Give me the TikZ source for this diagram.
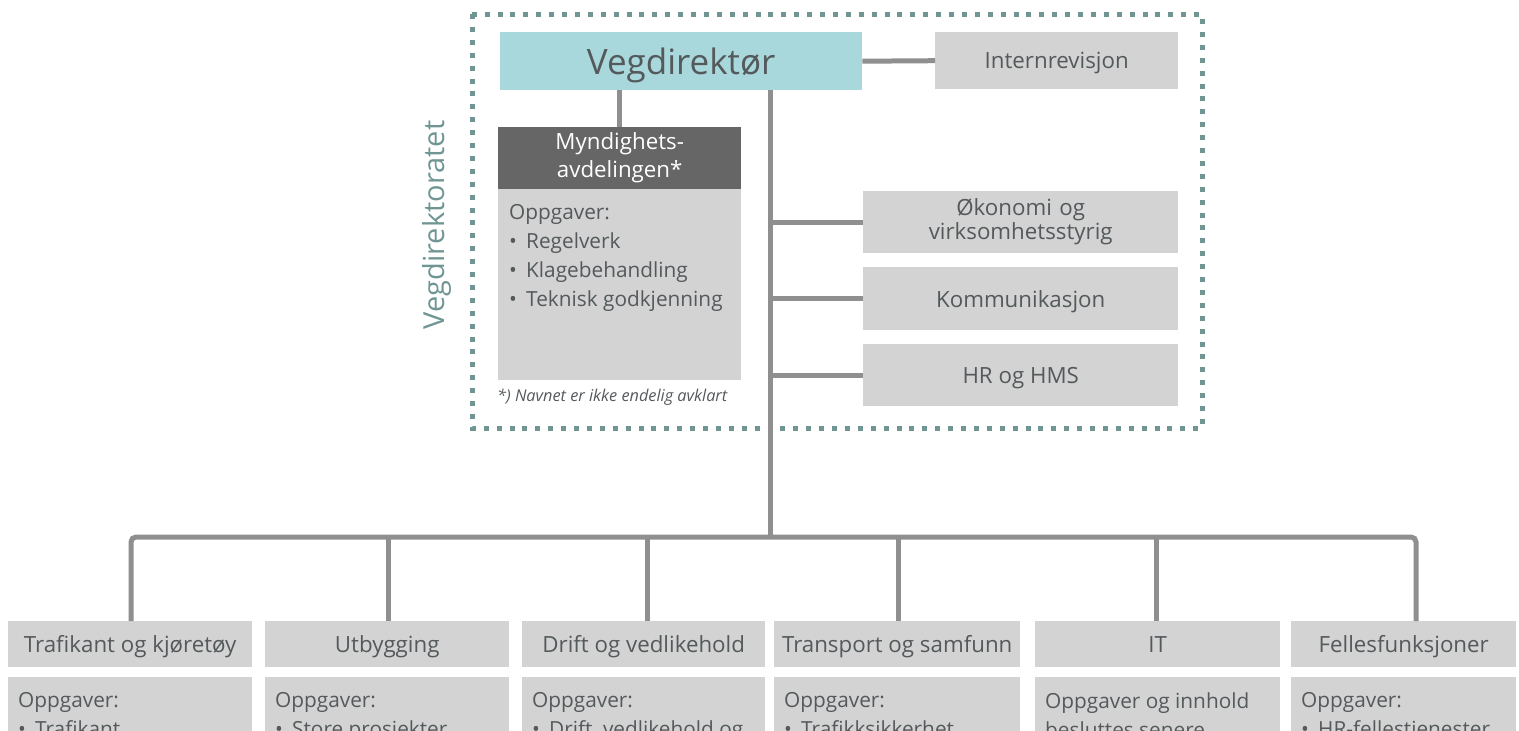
\documentclass[tikz,border=0pt]{standalone}
\usepackage{fontspec}
\setmainfont{Open Sans}
\usetikzlibrary{positioning}

\definecolor{vegteal}{HTML}{A8D8DC}
\definecolor{boxgray}{HTML}{D3D3D3}
\definecolor{headgray}{HTML}{666666}
\definecolor{linegray}{HTML}{8F8F8F}
\definecolor{txtgray}{HTML}{54595C}
\definecolor{framegreen}{HTML}{6F9693}

\newcommand{\unitfont}{\fontsize{22.3}{24}\selectfont}
\newcommand{\listfont}{\fontsize{20.8}{29}\selectfont}
\newcommand{\itm}[1]{\makebox[17pt][l]{\textbullet}#1}

\begin{document}
\begin{tikzpicture}
		[x=1pt,y=-1pt,
		box/.style={fill=boxgray,draw=none,inner sep=0pt,text=txtgray,align=center,font=\unitfont,anchor=north west},
		unit/.style={box,text depth=0pt},
		head/.style={box,fill=headgray,text=white},
		task/.style={inner sep=0pt,text=txtgray,align=left,font=\listfont,anchor=north west},
		conn/.style={draw=linegray,line width=5pt}]
		\useasboundingbox (0,0) rectangle (1519,731);
		\clip (0,0) rectangle (1519,731);
		
		% Vegdirektoratet
		\draw[framegreen,line width=5pt,dash pattern=on 5pt off 7.9pt] (472,14) rectangle (1202,428);
		\node[text=framegreen,font=\fontsize{29}{30}\selectfont,rotate=90] (vd) at (437,225) {Vegdirektoratet};
		
		\node[unit,fill=vegteal,minimum width=362,minimum height=58,font=\fontsize{35}{36}\selectfont] (veg) at (500,32) {Vegdirektør};
		\node[unit,minimum width=243,minimum height=57] (intrev) at (935,32) {Internrevisjon};
		
		\node[head,minimum width=243,minimum height=62,text width=243pt,font=\fontsize{22.3}{28}\selectfont] (mynd) at (498,127) {Myndighets-\\avdelingen*};
		\node[box,minimum width=243,minimum height=191] (myndbody) at (498,189) {};
		\node[task] (myndtask) at (509,204) {Oppgaver:\\\itm{Regelverk}\\\itm{Klagebehandling}\\\itm{Teknisk godkjenning}};
		\node[text=txtgray,font=\fontsize{16.3}{17}\selectfont\itshape,anchor=west,inner sep=0pt] (note) at (497,397) {*) Navnet er ikke endelig avklart};
		
		\node[box,minimum width=315,minimum height=62,text width=315pt] (okon) at (863,191) {Økonomi og\\virksomhetsstyrig};
		\node[unit,minimum width=315,minimum height=63] (komm) at (863,267) {Kommunikasjon};
		\node[unit,minimum width=315,minimum height=62] (hrhms) at (863,344) {HR og HMS};
		
		\coordinate (trunk) at (770,537);
		\draw[conn] (veg.east) -- (intrev.west);
		\draw[conn] (veg.south -| mynd.north) -- (mynd.north);
		\draw[conn] (trunk |- veg.south) -- (trunk);
		\foreach \n in {okon,komm,hrhms}
		\draw[conn] (trunk |- \n.west) -- (\n.west);
		
		% avdelinger
		\foreach \n/\x/\w/\dx/\title/\tasks in {
			traf/8/244/131/{Trafikant og kjøretøy}/{Oppgaver:\\\itm{Trafikant}},
			utb/265/244/388/{Utbygging}/{Oppgaver:\\\itm{Store prosjekter}},
			drift/522/243/647/{Drift og vedlikehold}/{Oppgaver:\\\itm{Drift, vedlikehold og}},
			trans/774/246/898/{Transport og samfunn}/{Oppgaver:\\\itm{Trafikksikkerhet}},
			it/1035/245/1156/{IT}/{Oppgaver og innhold\\besluttes senere},
			fell/1291/225/1416/{Fellesfunksjoner}/{Oppgaver:\\\itm{HR-fellestjenester}}}{
			\node[unit,minimum width=\w,minimum height=46] (\n) at (\x,621) {\title};
			\node[box,minimum width=\w,minimum height=80] (\n body) at (\x,677) {};
			\node[task] (\n task) at (\x+10,692) {\tasks};
			\coordinate (d\n) at (\dx,537);
		}
		\draw[conn,rounded corners=5pt] (dtraf |- traf.north) -- (dtraf) -- (dfell) -- (dfell |- fell.north);
		\foreach \n in {utb,drift,trans,it}
		\draw[conn] (d\n) -- (d\n |- \n.north);
		\end{tikzpicture}
\end{document}
